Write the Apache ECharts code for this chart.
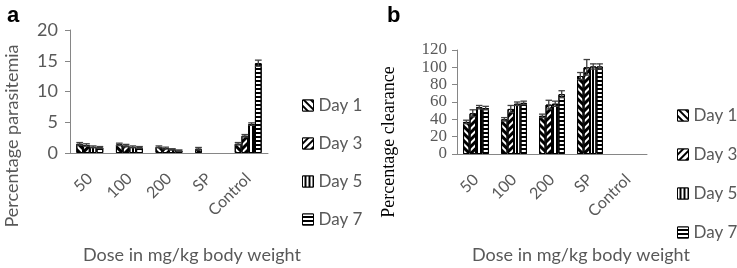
<!DOCTYPE html>
<html lang="en">
<head>
    <meta charset="UTF-8">
    <title>Parasitemia and clearance</title>
    <script src="https://cdn.jsdelivr.net/npm/echarts@6/dist/echarts.min.js"></script>
</head>
<body style="margin:0">

<div id="main" style="width: 737px;height:268px;"></div>

</body>
<script>

    var categories = ['50', '100', '200', 'SP', 'Control'];
    var days = ['Day 1', 'Day 3', 'Day 5', 'Day 7'];

    // panel a: percentage parasitemia
    var paraDay1 = [1.5, 1.4, 1.0, 0.7, 1.5];
    var paraDay3 = [1.3, 1.2, 0.8, 0, 2.8];
    var paraDay5 = [1.0, 1.0, 0.6, 0, 4.7];
    var paraDay7 = [0.9, 0.9, 0.4, 0, 14.6];
    var paraErr1 = [0.2, 0.2, 0.15, 0.2, 0.2];
    var paraErr3 = [0.2, 0.2, 0.15, 0, 0.2];
    var paraErr5 = [0.15, 0.15, 0.1, 0, 0.2];
    var paraErr7 = [0.15, 0.15, 0.1, 0, 0.5];
    var paraTicks = [0, 5, 10, 15, 20];

    // panel b: percentage clearance
    var clearDay1 = [37, 40, 44, 90, 0];
    var clearDay3 = [47, 52, 57, 100, 0];
    var clearDay5 = [54, 58, 58, 101, 0];
    var clearDay7 = [53, 59, 69, 101, 0];
    var clearErr1 = [2, 2, 2, 4, 0];
    var clearErr3 = [4, 4, 5, 9, 0];
    var clearErr5 = [2, 2, 3, 3, 0];
    var clearErr7 = [2, 2, 4, 3, 0];
    var clearTicks = [0, 20, 40, 60, 80, 100, 120];

    var mychart = echarts.init(document.getElementById('main'));

    var sans = 'Lato';
    var grey = '#595959';
    var gapRatio = 0.32;

    //四种填充图案: \\ // || ==
    function makeDecal(k, fg) {
        var d = [
            {dashArrayX: [1, 0], dashArrayY: [2.5, 1.5], rotation: Math.PI / 4},
            {dashArrayX: [1, 0], dashArrayY: [2.5, 1.5], rotation: -Math.PI / 4},
            {dashArrayX: [1.5, 2], dashArrayY: [1, 0], rotation: 0},
            {dashArrayX: [1, 0], dashArrayY: [1.5, 1.5], rotation: 0}
        ][k];
        d.symbol = 'rect';
        d.symbolSize = 1;
        d.color = fg;
        d.backgroundColor = 'rgba(0,0,0,0)';
        return d;
    }

    function barSeries(name, k, data, idx) {
        return {
            name: name,
            type: 'bar',
            xAxisIndex: idx,
            yAxisIndex: idx,
            barGap: 0,
            barCategoryGap: (gapRatio * 100) + '%',
            itemStyle: {color: '#fff', borderColor: '#000', borderWidth: 1, decal: makeDecal(k, '#000')},
            //0 表示没有柱子
            data: data.map(function (v) { return v > 0 ? v : '-'; })
        };
    }

    function errSeries(k, vals, errs, idx) {
        var list = [];
        for (var i = 0; i < vals.length; i++) {
            if (vals[i] > 0) list.push([i, vals[i], errs[i]]);
        }
        return {
            type: 'custom',
            xAxisIndex: idx,
            yAxisIndex: idx,
            z: 5,
            silent: true,
            data: list,
            renderItem: function (params, api) {
                var bw = api.size([1, 0])[0];
                var group = bw * (1 - gapRatio);
                var barW = group / 4;
                var cx = api.coord([api.value(0), 0])[0] - group / 2 + (k + 0.5) * barW;
                var v = api.value(1), e = api.value(2);
                var hi = api.coord([api.value(0), v + e])[1];
                var lo = api.coord([api.value(0), v - e])[1];
                var cap = barW * 0.5;
                var st = {stroke: '#404040', lineWidth: 1.3};
                return {
                    type: 'group',
                    children: [
                        {type: 'line', shape: {x1: cx, y1: hi, x2: cx, y2: lo}, style: st},
                        {type: 'line', shape: {x1: cx - cap, y1: hi, x2: cx + cap, y2: hi}, style: st},
                        {type: 'line', shape: {x1: cx - cap, y1: lo, x2: cx + cap, y2: lo}, style: st}
                    ]
                };
            }
        };
    }

    function legendData() {
        return days.map(function (d, k) {
            return {name: d, icon: 'rect', itemStyle: {color: '#000', borderColor: '#000', borderWidth: 1, decal: makeDecal(k, '#fff')}};
        });
    }

    var xAxisBase = {
        type: 'category',
        data: categories,
        axisLine: {lineStyle: {color: '#868686'}},
        axisTick: {show: false},
        axisLabel: {rotate: 45, margin: 23, fontFamily: sans, fontSize: 16, color: grey, interval: 0}
    };

    var option = {
        animation: false,
        title: [
            {text: 'a', left: 2, top: 0, textStyle: {fontFamily: 'Liberation Sans', fontWeight: 'bold', fontSize: 22, color: '#000'}},
            {text: 'b', left: 382, top: 0, textStyle: {fontFamily: 'Liberation Sans', fontWeight: 'bold', fontSize: 22, color: '#000'}}
        ],
        grid: [
            {left: 70, top: 30, width: 198, height: 123},
            {left: 457, top: 50, width: 190, height: 104}
        ],
        legend: [
            {
                data: legendData(), orient: 'vertical', left: 297, top: 92, itemGap: 21,
                itemWidth: 11, itemHeight: 11, icon: 'rect',
                textStyle: {fontFamily: sans, fontSize: 17, color: grey}
            },
            {
                data: legendData(), orient: 'vertical', left: 672, top: 102, itemGap: 22,
                itemWidth: 11, itemHeight: 11, icon: 'rect',
                textStyle: {fontFamily: sans, fontSize: 17, color: grey}
            }
        ],
        xAxis: [
            Object.assign({gridIndex: 0}, xAxisBase),
            Object.assign({gridIndex: 1}, xAxisBase)
        ],
        yAxis: [
            {
                gridIndex: 0, type: 'value', min: paraTicks[0], max: paraTicks[paraTicks.length - 1], interval: 5,
                splitLine: {show: false},
                axisLine: {show: true, lineStyle: {color: '#868686'}},
                axisTick: {show: true, length: 5, lineStyle: {color: '#868686'}},
                axisLabel: {margin: 12, fontFamily: sans, fontSize: 18, color: grey, showMinLabel: true, showMaxLabel: true}
            },
            {
                gridIndex: 1, type: 'value', min: clearTicks[0], max: clearTicks[clearTicks.length - 1], interval: 20,
                splitLine: {show: false},
                axisLine: {show: true, lineStyle: {color: '#868686'}},
                axisTick: {show: true, length: 5, lineStyle: {color: '#868686'}},
                axisLabel: {margin: 10, fontFamily: 'Liberation Serif', fontSize: 17, lineHeight: 12, color: grey,
                    showMinLabel: true, showMaxLabel: true, hideOverlap: false}
            }
        ],
        //坐标轴标题
        graphic: [
            {type: 'text', x: 12, y: 136, rotation: Math.PI / 2,
                style: {text: 'Percentage parasitemia', font: '18px Lato', fill: grey, align: 'center', verticalAlign: 'middle'}},
            {type: 'text', x: 389, y: 142, rotation: Math.PI / 2,
                style: {text: 'Percentage clearance', font: '18px "Liberation Serif"', fill: '#000', align: 'center', verticalAlign: 'middle'}},
            {type: 'text', x: 192, y: 255,
                style: {text: 'Dose in mg/kg body weight', font: '18px Lato', fill: grey, align: 'center', verticalAlign: 'middle'}},
            {type: 'text', x: 581, y: 255,
                style: {text: 'Dose in mg/kg body weight', font: '18px Lato', fill: grey, align: 'center', verticalAlign: 'middle'}}
        ],
        series: [
            barSeries('Day 1', 0, paraDay1, 0),
            barSeries('Day 3', 1, paraDay3, 0),
            barSeries('Day 5', 2, paraDay5, 0),
            barSeries('Day 7', 3, paraDay7, 0),
            errSeries(0, paraDay1, paraErr1, 0),
            errSeries(1, paraDay3, paraErr3, 0),
            errSeries(2, paraDay5, paraErr5, 0),
            errSeries(3, paraDay7, paraErr7, 0),
            barSeries('Day 1', 0, clearDay1, 1),
            barSeries('Day 3', 1, clearDay3, 1),
            barSeries('Day 5', 2, clearDay5, 1),
            barSeries('Day 7', 3, clearDay7, 1),
            errSeries(0, clearDay1, clearErr1, 1),
            errSeries(1, clearDay3, clearErr3, 1),
            errSeries(2, clearDay5, clearErr5, 1),
            errSeries(3, clearDay7, clearErr7, 1)
        ]
    };

    mychart.setOption(option);

</script>
</html>
